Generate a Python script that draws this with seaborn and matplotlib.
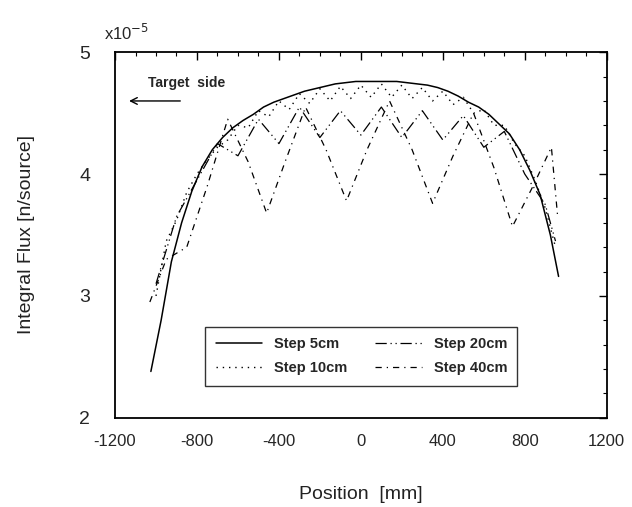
import matplotlib
matplotlib.use("Agg")
import matplotlib.pyplot as plt
import seaborn as sns
import pandas as pd

# ---- data (flux in units of 1e-5 n/source) ----
pos_5 = [-1025, -975, -925, -875, -825, -775, -725, -675, -625, -575, -525, -475,
         -425, -375, -325, -275, -225, -175, -125, -75, -25, 25, 75, 125, 175,
         225, 275, 325, 375, 425, 475, 525, 575, 625, 675, 725, 775, 825, 875,
         925, 965]
flux_5 = [2.38, 2.80, 3.28, 3.60, 3.86, 4.06, 4.20, 4.30, 4.38, 4.44, 4.49, 4.55,
          4.59, 4.62, 4.65, 4.68, 4.70, 4.72, 4.74, 4.75, 4.76, 4.76, 4.76, 4.76, 4.76,
          4.75, 4.74, 4.73, 4.71, 4.68, 4.64, 4.59, 4.55, 4.49, 4.41, 4.33, 4.20, 4.03, 3.83,
          3.50, 3.16]

pos_10 = [-1000, -950, -900, -850, -800, -750, -700, -650, -600, -550, -500, -450,
          -400, -350, -300, -250, -200, -150, -100, -50, 0, 50, 100, 150, 200, 250,
          300, 350, 400, 450, 500, 550, 600, 650, 700, 750, 800, 850, 900, 950]
flux_10 = [3.00, 3.45, 3.62, 3.85, 4.00, 4.12, 4.22, 4.28, 4.40, 4.38, 4.52, 4.47,
           4.60, 4.53, 4.66, 4.58, 4.70, 4.60, 4.72, 4.62, 4.73, 4.63, 4.74, 4.63, 4.73, 4.62,
           4.71, 4.60, 4.68, 4.57, 4.63, 4.50, 4.53, 4.40, 4.40, 4.25, 4.15, 3.95, 3.72, 3.40]

pos_20 = [-1000, -900, -800, -700, -600, -500, -400, -300, -200, -100, 0, 100,
          200, 300, 400, 500, 600, 700, 800, 900, 950]
flux_20 = [3.10, 3.65, 3.95, 4.25, 4.15, 4.45, 4.25, 4.55, 4.30, 4.52, 4.32, 4.55,
           4.30, 4.52, 4.28, 4.48, 4.22, 4.35, 4.00, 3.75, 3.45]

pos_40 = [-1030, -950, -850, -750, -650, -550, -460, -370, -270, -170, -70, 30,
          140, 250, 350, 450, 550, 650, 740, 840, 930, 960]
flux_40 = [2.95, 3.30, 3.40, 3.90, 4.45, 4.10, 3.68, 4.10, 4.55, 4.20, 3.78, 4.20,
           4.60, 4.20, 3.76, 4.15, 4.50, 4.05, 3.57, 3.90, 4.22, 3.66]

series_labels = ["Step 5cm", "Step 10cm", "Step 20cm", "Step 40cm"]
x_ticks = [-1200, -800, -400, 0, 400, 800, 1200]
y_ticks = [2, 3, 4, 5]

sns.set_theme(style="white")
plt.rcParams['font.family'] = ['Liberation Sans', 'DejaVu Sans']

fig = plt.figure(figsize=(6.32, 5.07), dpi=100)
ax = fig.add_axes([0.182, 0.176, 0.778, 0.721])

styles = ["-", (0, (1, 3.5)), (0, (9, 3, 1, 3, 1, 3)), (0, (5, 4, 1, 4))]
widths = [1.1, 1.0, 0.9, 0.9]
data = [(pos_5, flux_5), (pos_10, flux_10), (pos_20, flux_20), (pos_40, flux_40)]
for (px, fy), lab, ls, lw in zip(data, series_labels, styles, widths):
    df = pd.DataFrame({"pos": px, "flux": fy})
    sns.lineplot(data=df, x="pos", y="flux", ax=ax, color="black",
                 linestyle=ls, linewidth=lw, label=lab, sort=False)

ax.set_xlim(-1200, 1200)
ax.set_ylim(2, 5)
ax.set_xticks(x_ticks)
ax.set_xticklabels([str(t) for t in x_ticks])
ax.set_yticks(y_ticks)
ax.set_yticklabels([str(t) for t in y_ticks])
ax.set_xticks(range(-1100, 1200, 100), minor=True)
ax.set_yticks([2.2, 2.4, 2.6, 2.8, 3.2, 3.4, 3.6, 3.8, 4.2, 4.4, 4.6, 4.8], minor=True)
ax.tick_params(axis="both", which="both", direction="in", top=True, right=True,
               color="black")
ax.tick_params(axis="x", which="major", length=6, width=1.0, labelsize=12, pad=12)
ax.tick_params(axis="y", which="major", length=6, width=1.0, labelsize=14, pad=18)
ax.tick_params(axis="both", which="minor", length=3, width=0.8)
for s in ax.spines.values():
    s.set_color("black")
    s.set_linewidth(1.3)

ax.set_xlabel("Position  [mm]", fontsize=14, labelpad=26)
ax.set_ylabel("Integral Flux [n/source]", fontsize=14, labelpad=32)
ax.xaxis.label.set_color("#222222")
ax.yaxis.label.set_color("#222222")

fig.text(0.165, 0.915, r"x10$^{-5}$", fontsize=12, ha="left", va="bottom")

ax.text(-1039, 4.75, "Target  side", fontsize=10, fontweight="bold", ha="left", va="center")
ax.annotate("", xy=(-1145, 4.60), xytext=(-868, 4.60),
            arrowprops=dict(arrowstyle="->", color="black", lw=1.0))

leg = ax.legend(loc="lower left", bbox_to_anchor=(0.169, 0.068, 0.664, 0.192),
                mode="expand", ncol=2, frameon=True, fancybox=False,
                edgecolor="black", fontsize=10.5, handlelength=3.2,
                borderpad=0.7, labelspacing=0.7, columnspacing=1.5)
leg.get_frame().set_linewidth(1.0)
for t in leg.get_texts():
    t.set_fontweight("bold")

fig.savefig("out.png", dpi=100, facecolor="white")
